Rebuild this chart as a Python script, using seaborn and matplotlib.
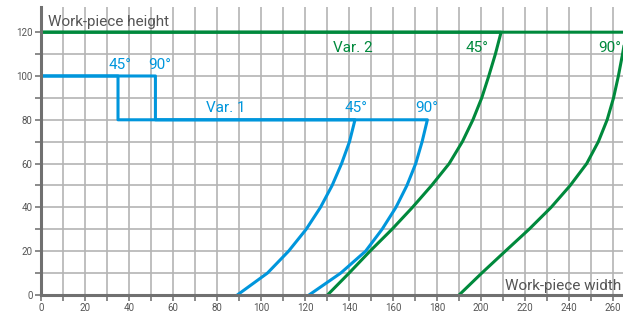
import matplotlib
matplotlib.use("Agg")
import matplotlib.pyplot as plt
import pandas as pd
import seaborn as sns

# heights of the two variants
var1_height = 100
var1_step = 80
var2_height = 120

# step x-positions of Var. 1 (45° and 90°)
var1_step_x = {"45°": 35, "90°": 52}

# curve points: y = height, x = width
blue_y = [0, 10, 20, 30, 40, 50, 60, 70, 80]
blue45_x = [89.2, 102.9, 112.5, 120.5, 127.0, 132.3, 136.6, 140.2, 142.7]
blue90_x = [121.8, 136.2, 147.5, 155.0, 161.3, 166.3, 170.3, 173.2, 175.6]

green_y = [0, 10, 20, 30, 40, 50, 60, 70, 80, 90, 100, 110, 120]
green45_x = [130.2, 140.0, 149.5, 159.5, 168.8, 177.5, 185.5, 191.5, 196.3, 200.3, 203.5, 206.5, 209.1]
green90_x = [190.0, 200.3, 211.0, 221.8, 231.8, 240.5, 248.0, 253.3, 257.3, 260.2, 262.4, 264.3, 266.0]

x_ticks = list(range(0, 261, 10))
y_ticks = list(range(0, 121, 10))

BLUE = "#0096dc"
GREEN = "#00893c"
GRAY = "#555555"

sns.set_theme(style="whitegrid")
plt.rcParams["font.family"] = ["Roboto", "DejaVu Sans"]

fig = plt.figure(figsize=(6.23, 3.12), dpi=100)
ax = fig.add_axes([41 / 623, 17 / 312, 1 - 41 / 623, 288 / 312])


def var1_path(angle, curve_x):
    sx = var1_step_x[angle]
    xs = [0, sx, sx] + curve_x[::-1]
    ys = [var1_height, var1_height, var1_step] + blue_y[::-1]
    return pd.DataFrame({"x": xs, "y": ys})


def var2_path(curve_x):
    xs = [0] + curve_x[::-1]
    ys = [var2_height] + green_y[::-1]
    return pd.DataFrame({"x": xs, "y": ys})


paths = [
    (var1_path("45°", blue45_x), BLUE),
    (var1_path("90°", blue90_x), BLUE),
    (var2_path(green45_x), GREEN),
    (var2_path(green90_x), GREEN),
]
for df, col in paths:
    sns.lineplot(data=df, x="x", y="y", sort=False, estimator=None,
                 color=col, linewidth=2.2, ax=ax, zorder=3)

ax.set_xlim(0, 264.5)
ax.set_ylim(0, 131.5)
ax.set_xticks(x_ticks)
ax.set_yticks(y_ticks)
ax.set_xticklabels([str(v) if v % 20 == 0 else "" for v in x_ticks])
ax.set_yticklabels([str(v) if v % 20 == 0 else "" for v in y_ticks])
ax.tick_params(axis="both", which="major", length=4, width=1.2, color="#777777",
               labelsize=7, labelcolor=GRAY, pad=2, direction="out")
ax.tick_params(left=True, bottom=True)
ax.grid(True, color="#b4b4b4", linewidth=1.2)
ax.set_axisbelow(True)
ax.set_xlabel("")
ax.set_ylabel("")

for side in ["top", "right"]:
    ax.spines[side].set_visible(False)
for side in ["left", "bottom"]:
    ax.spines[side].set_color("#707070")
    ax.spines[side].set_linewidth(2.2)
    ax.spines[side].set_zorder(4)

fs = 11
ax.text(3, 123, "Work-piece height", color=GRAY, fontsize=fs, va="baseline", ha="left")
ax.text(263.5, 2.5, "Work-piece width", color=GRAY, fontsize=fs, va="baseline", ha="right")

ax.text(36, 103, "45°", color=BLUE, fontsize=fs, ha="center", va="baseline")
ax.text(54, 103, "90°", color=BLUE, fontsize=fs, ha="center", va="baseline")
ax.text(84, 83.5, "Var. 1", color=BLUE, fontsize=fs, ha="center", va="baseline")
ax.text(143.3, 83.5, "45°", color=BLUE, fontsize=fs, ha="center", va="baseline")
ax.text(175.5, 83.5, "90°", color=BLUE, fontsize=fs, ha="center", va="baseline")

ax.text(141.6, 111, "Var. 2", color=GREEN, fontsize=fs, ha="center", va="baseline")
ax.text(198.4, 111, "45°", color=GREEN, fontsize=fs, ha="center", va="baseline")
ax.text(258.4, 111, "90°", color=GREEN, fontsize=fs, ha="center", va="baseline")

fig.savefig("out.png", dpi=100)
